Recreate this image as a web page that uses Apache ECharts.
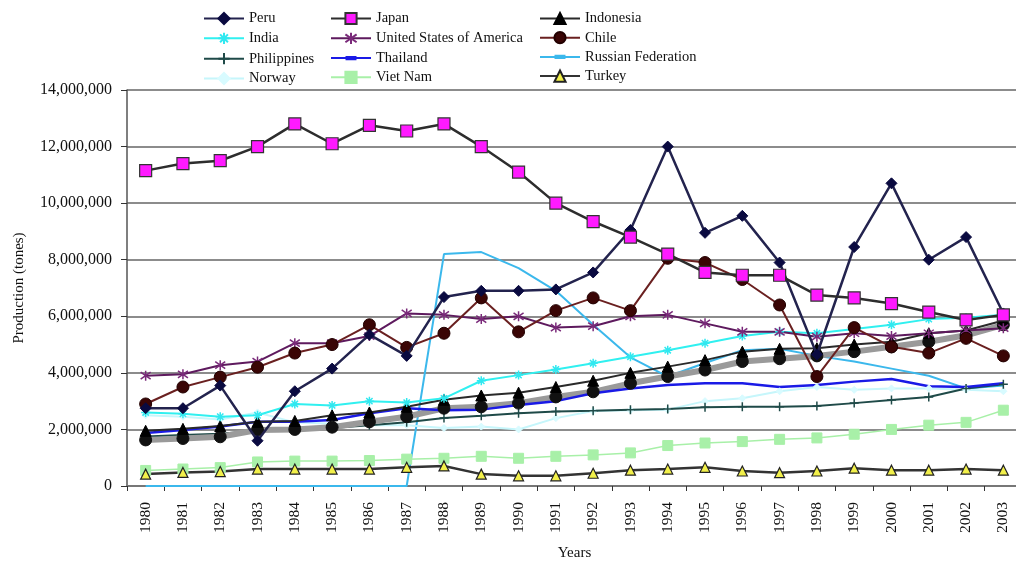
<!DOCTYPE html>
<html><head><meta charset="utf-8">
<script src="https://cdn.jsdelivr.net/npm/echarts@6/dist/echarts.min.js"></script>
<style>html,body{margin:0;padding:0;background:#fff}#c{width:1016px;height:562px}</style>
</head><body><div id="c"></div>
<script>
const years = ['1980','1981','1982','1983','1984','1985','1986','1987','1988','1989','1990','1991','1992','1993','1994','1995','1996','1997','1998','1999','2000','2001','2002','2003'];
const yTicks = [0, 2000000, 4000000, 6000000, 8000000, 10000000, 12000000, 14000000];
// values in millions of tonnes
const peru = [2.75,2.75,3.55,1.6,3.35,4.15,5.35,4.6,6.68,6.9,6.9,6.95,7.55,9.05,12.0,8.95,9.55,7.9,4.65,8.45,10.7,8.0,8.8,6.1];
const japan = [11.15,11.4,11.5,12.0,12.8,12.1,12.75,12.55,12.8,12.0,11.1,10.0,9.35,8.8,8.2,7.55,7.45,7.45,6.75,6.65,6.45,6.15,5.87,6.05];
const indonesia = [1.95,2.02,2.12,2.27,2.3,2.5,2.6,2.8,3.05,3.2,3.3,3.5,3.72,4.0,4.22,4.45,4.75,4.85,4.87,5.0,5.1,5.4,5.5,5.85];
const india = [2.6,2.55,2.45,2.5,2.9,2.85,3.0,2.95,3.1,3.72,3.92,4.12,4.34,4.57,4.8,5.05,5.3,5.45,5.4,5.55,5.7,5.9,5.95,6.05];
const usa = [3.9,3.95,4.27,4.4,5.05,5.05,5.3,6.1,6.05,5.9,6.0,5.6,5.65,6.0,6.05,5.75,5.45,5.45,5.28,5.4,5.3,5.4,5.5,5.58];
const chile = [2.9,3.5,3.85,4.2,4.7,5.0,5.7,4.9,5.4,6.65,5.45,6.2,6.65,6.2,8.05,7.9,7.3,6.4,3.87,5.6,4.92,4.7,5.22,4.6];
const philippines = [1.75,1.8,1.85,1.95,2.0,2.05,2.15,2.25,2.4,2.48,2.57,2.63,2.66,2.7,2.72,2.78,2.8,2.8,2.83,2.93,3.04,3.15,3.45,3.6];
const thailand = [1.87,1.98,2.1,2.27,2.27,2.33,2.57,2.75,2.68,2.7,2.86,3.0,3.28,3.45,3.57,3.63,3.63,3.5,3.57,3.69,3.78,3.53,3.5,3.63];
const russia = [0,0,0,0,0,0,0,0,8.2,8.27,7.7,6.9,5.7,4.55,3.87,4.35,4.8,4.85,4.6,4.4,4.15,3.9,3.45,3.55];
const norway = [2.5,2.45,2.35,2.6,2.25,2.2,2.15,2.15,2.05,2.1,2.0,2.4,2.65,2.68,2.7,3.0,3.1,3.35,3.5,3.4,3.45,3.45,3.4,3.35];
const vietnam = [0.55,0.6,0.65,0.85,0.88,0.88,0.9,0.95,0.98,1.05,0.98,1.05,1.1,1.17,1.43,1.52,1.57,1.65,1.7,1.83,2.0,2.15,2.25,2.68];
const turkey = [0.42,0.48,0.51,0.6,0.6,0.6,0.6,0.66,0.71,0.42,0.36,0.36,0.45,0.56,0.6,0.66,0.53,0.47,0.53,0.63,0.56,0.56,0.6,0.56];
const unlabelled = [1.63,1.68,1.74,1.98,2.0,2.08,2.27,2.45,2.75,2.8,2.93,3.15,3.33,3.63,3.87,4.1,4.4,4.5,4.6,4.75,4.92,5.1,5.33,5.7];

const M = 1000000;
const toT = a => a.map(v => Math.round(v * M));
const FONT = 'Liberation Serif';
const ASTER = 'path://M5,0L5,10M0,5L10,5M1.5,1.5L8.5,8.5M8.5,1.5L1.5,8.5';
const XSTAR = 'path://M1.5,1.5L8.5,8.5M8.5,1.5L1.5,8.5M5,0L5,10';
const PLUS = 'path://M5,0L5,10M0,5L10,5';
const FLAT = 'path://M0,0L0,0M1,4L9,4L9,6L1,6ZM10,10L10,10';

function s(name, data, o) {
  return {
    name: name, type: 'line', data: toT(data),
    symbol: o.symbol, symbolSize: o.size || 8,
    showSymbol: o.show !== false,
    lineStyle: { color: o.line, width: o.lw || 2, opacity: 1 },
    itemStyle: { color: o.fill || o.line, borderColor: o.border || o.fill || o.line, borderWidth: o.bw || 1 },
    z: o.z || 2
  };
}

const series = [
  s('Russian Federation', russia, { line: '#3bb8ec', lw: 2, symbol: FLAT, size: 8, show: false }),
  s('Norway', norway, { line: '#c6f6fb', lw: 2, symbol: 'diamond', size: 7, fill: '#d8fbff' }),
  s('Viet Nam', vietnam, { line: '#a8f0a8', lw: 1.5, symbol: 'rect', size: 10, fill: '#a8f0a8', border: '#a8f0a8' }),
  s('Turkey', turkey, { line: '#333333', lw: 2.5, symbol: 'triangle', size: 10, fill: '#f2f04a', border: '#222', bw: 1.2 }),
  s('Philippines', philippines, { line: '#1f4a48', lw: 2, symbol: PLUS, size: 9, fill: 'none', border: '#1f4a48', bw: 1.5 }),
  s('Series 13', unlabelled, { line: '#9a9a9a', lw: 6, symbol: 'circle', size: 12, fill: '#111', border: '#111' }),
  s('Thailand', thailand, { line: '#1a1ae6', lw: 2.5, symbol: FLAT, size: 8, show: false }),
  s('Indonesia', indonesia, { line: '#2a2a2a', lw: 2, symbol: 'triangle', size: 11, fill: '#000', border: '#000' }),
  s('India', india, { line: '#30f0f0', lw: 2, symbol: ASTER, size: 9, fill: 'none', border: '#30e8f0', bw: 1.5 }),
  s('United States of America', usa, { line: '#5e1a5e', lw: 2, symbol: XSTAR, size: 10, fill: 'none', border: '#7a2a7a', bw: 1.5 }),
  s('Chile', chile, { line: '#6a2020', lw: 2, symbol: 'circle', size: 12, fill: '#3a0505', border: '#200' }),
  s('Peru', peru, { line: '#23234e', lw: 2.5, symbol: 'diamond', size: 11, fill: '#0a0a40', border: '#0a0a40', z: 3 }),
  s('Japan', japan, { line: '#2d2d2d', lw: 2.5, symbol: 'rect', size: 12, fill: '#ff1aff', border: '#333', bw: 1.2, z: 3 })
];

function legend(left, names) {
  return {
    data: names, orient: 'vertical', left: left, top: 11, padding: 0,
    itemWidth: 40, itemHeight: 14, itemGap: 4.2, selectedMode: false,
    textStyle: { fontFamily: FONT, fontSize: 14.5, color: '#111' }
  };
}

const chart = echarts.init(document.getElementById('c'), null, { renderer: 'canvas' });
chart.setOption({
  animation: false,
  backgroundColor: '#fff',
  legend: [
    legend(203, ['Peru', 'India', 'Philippines', 'Norway']),
    legend(330, ['Japan', 'United States of America', 'Thailand', 'Viet Nam']),
    legend(539, ['Indonesia', 'Chile', 'Russian Federation', 'Turkey'])
  ],
  grid: { left: 127, right: -6, top: 90, bottom: 76, containLabel: false, outerBoundsMode: 'none' },
  xAxis: {
    type: 'category', data: years, boundaryGap: true,
    name: 'Years', nameLocation: 'middle', nameGap: 60,
    nameTextStyle: { fontFamily: FONT, fontSize: 15, color: '#111' },
    axisLine: { lineStyle: { color: '#777', width: 2 } },
    axisTick: { show: true, length: 5, lineStyle: { color: '#333' } },
    axisLabel: { rotate: 90, fontFamily: FONT, fontSize: 15.5, color: '#111', margin: 16 }
  },
  yAxis: {
    type: 'value', min: yTicks[0], max: yTicks[yTicks.length - 1], interval: 2000000,
    name: 'Production (tones)', nameLocation: 'middle', nameGap: 100, nameRotate: 90,
    nameTextStyle: { fontFamily: FONT, fontSize: 15, color: '#111' },
    axisLine: { show: true, lineStyle: { color: '#555', width: 1.5 } },
    axisTick: { show: true, length: 6, lineStyle: { color: '#333' } },
    splitLine: { lineStyle: { color: '#666', width: 1.5 } },
    axisLabel: {
      fontFamily: FONT, fontSize: 16, color: '#111', margin: 15,
      formatter: v => v.toLocaleString('en-US')
    }
  },
  series: series
});
</script></body></html>
